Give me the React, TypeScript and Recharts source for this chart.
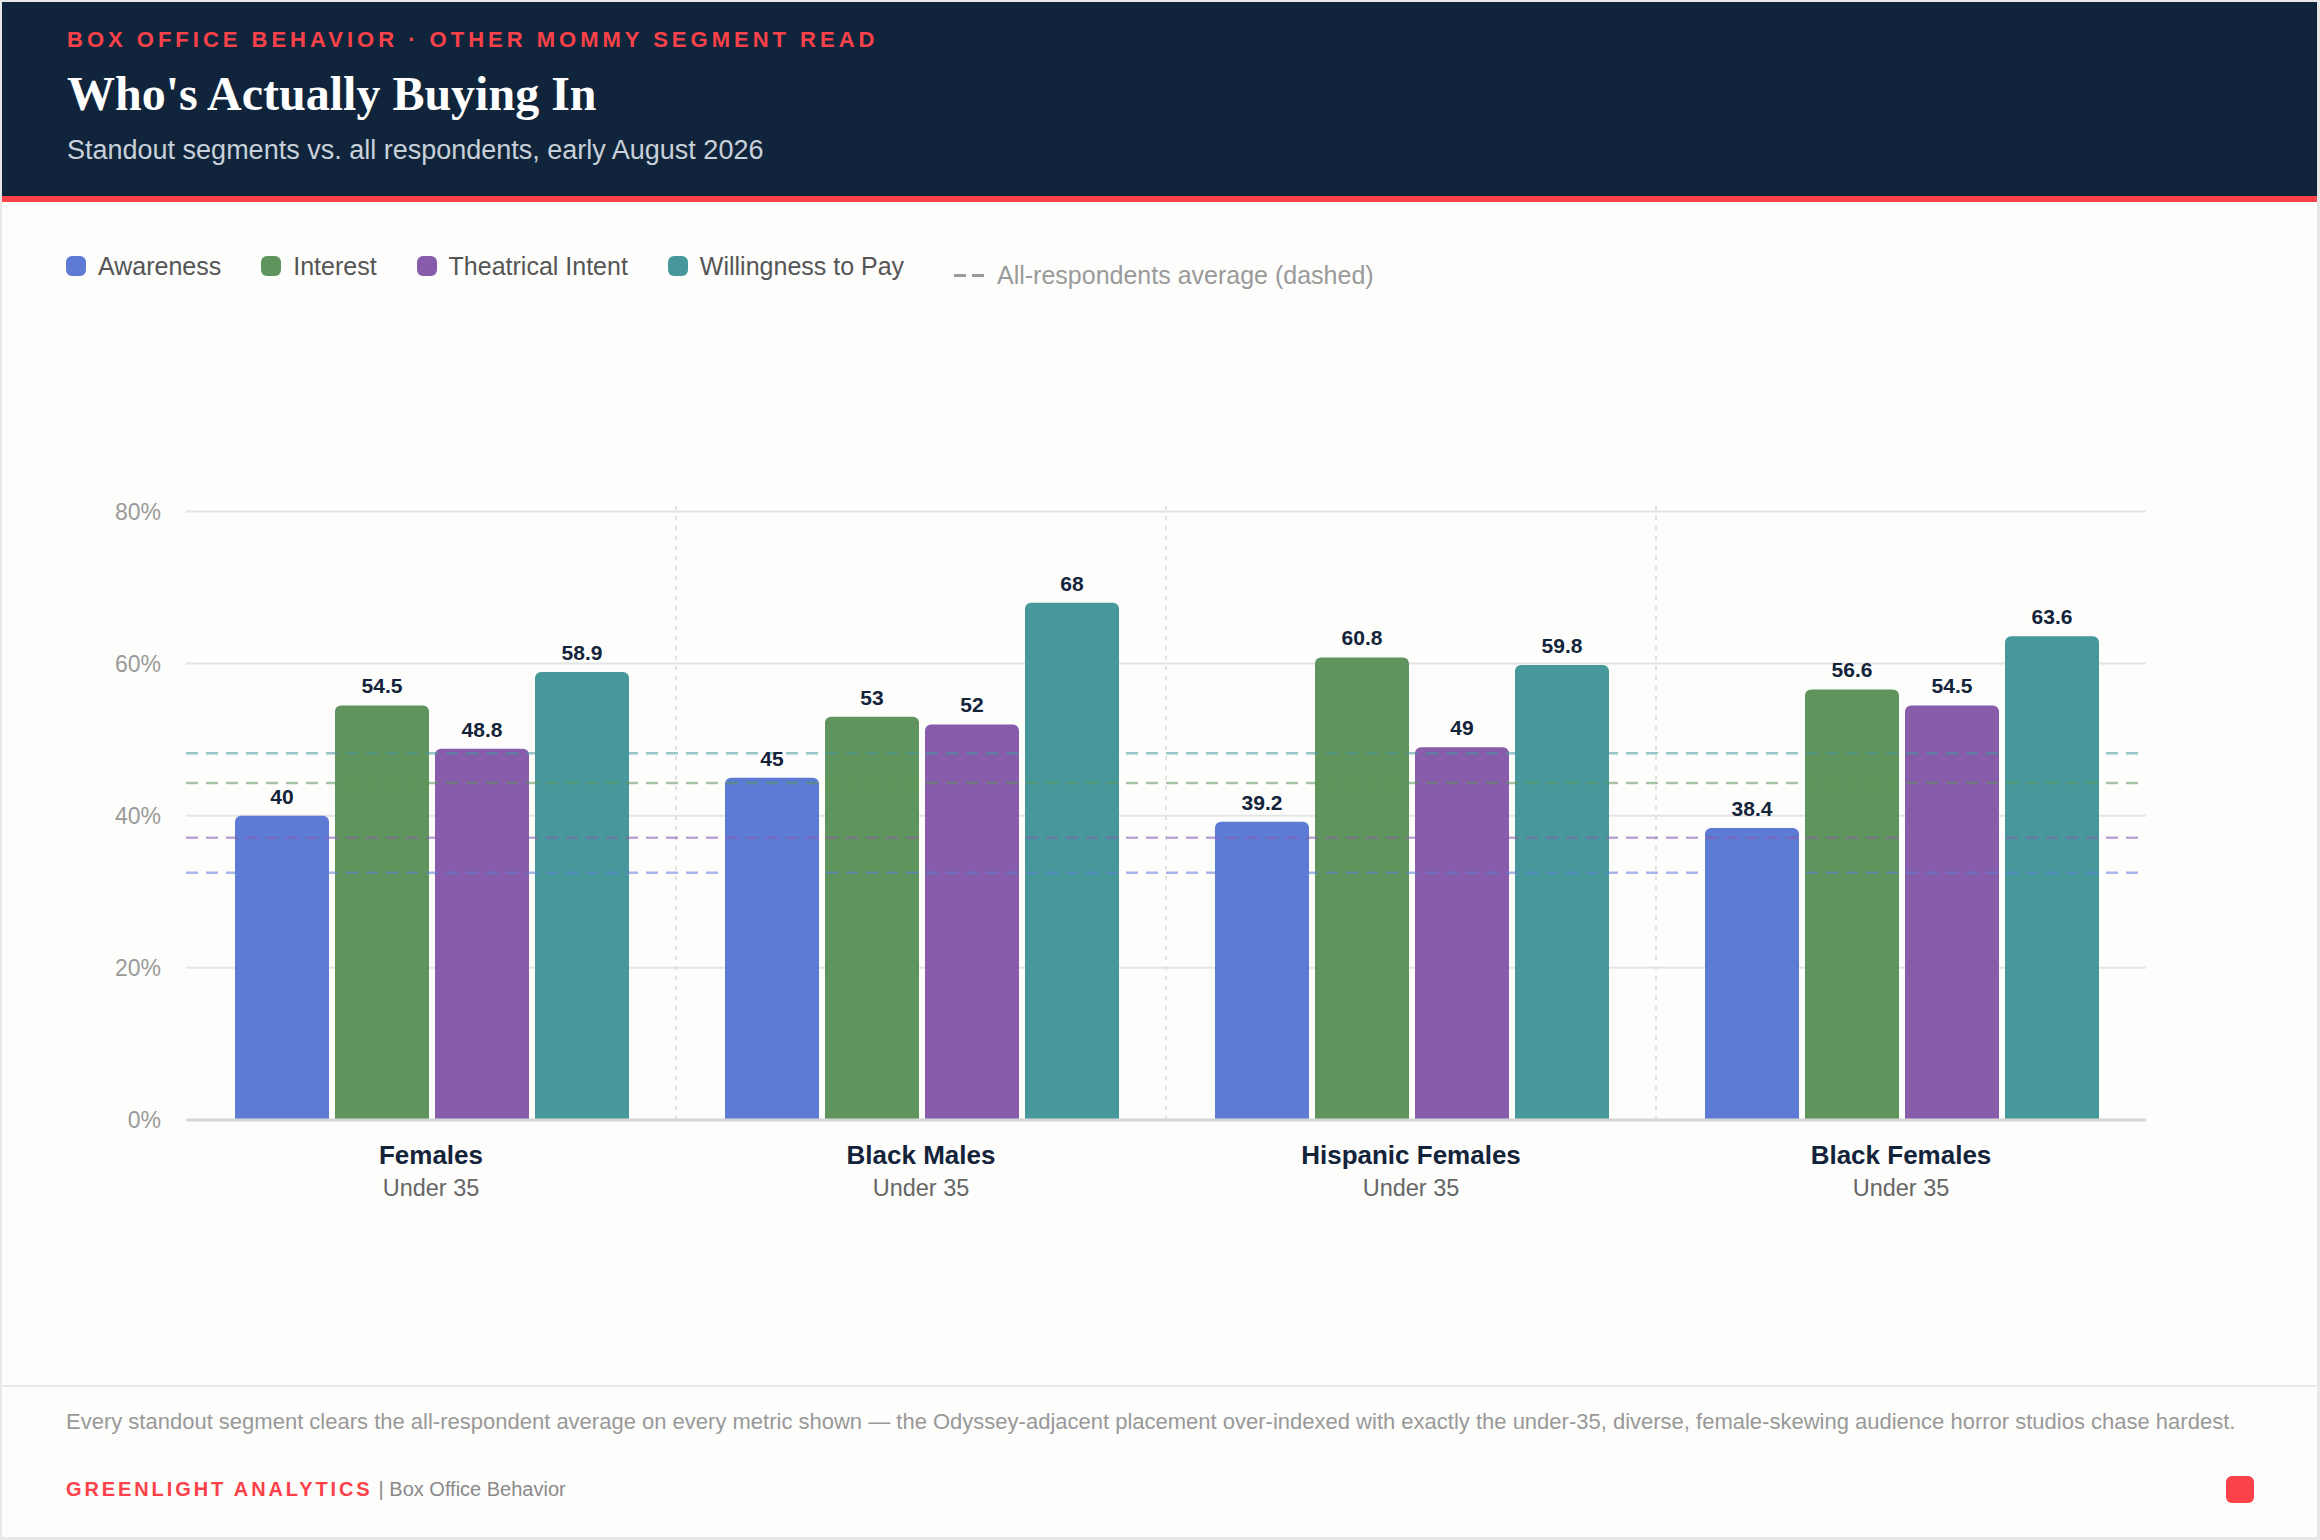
import React from "react";
import {
  BarChart,
  Bar,
  XAxis,
  YAxis,
  CartesianGrid,
  ReferenceLine,
  LabelList,
} from "recharts";

const categories = ["Females", "Black Males", "Hispanic Females", "Black Females"];
const subLabels = ["Under 35", "Under 35", "Under 35", "Under 35"];
const awareness = [40, 45, 39.2, 38.4];
const interest = [54.5, 53, 60.8, 56.6];
const theatricalIntent = [48.8, 52, 49, 54.5];
const willingnessToPay = [58.9, 68, 59.8, 63.6];
const allRespondentAverages = [32.5, 44.3, 37.1, 48.2];
const yTicks = [0, 20, 40, 60, 80];

const seriesNames = ["Awareness", "Interest", "Theatrical Intent", "Willingness to Pay"];
const seriesKeys = ["awareness", "interest", "intent", "wtp"];
const seriesColors = ["#5d7bd5", "#5f955c", "#875cab", "#46989a"];
const seriesValues = [awareness, interest, theatricalIntent, willingnessToPay];

const data = categories.map((c, i) => {
  const row: Record<string, any> = { name: c, sub: subLabels[i] };
  seriesKeys.forEach((k, j) => {
    row[k] = seriesValues[j][i];
  });
  return row;
});

const SANS = '"Liberation Sans", Arial, sans-serif';
const SERIF = '"Liberation Serif", "Times New Roman", serif';

const CategoryTick = (props: any) => {
  const { x, y, payload, index } = props;
  return (
    <g>
      <text
        x={x}
        y={y}
        dy={44}
        textAnchor="middle"
        fontFamily={SANS}
        fontWeight={700}
        fontSize={26}
        fill="#13233a"
      >
        {payload.value}
      </text>
      <text
        x={x}
        y={y}
        dy={76}
        textAnchor="middle"
        fontFamily={SANS}
        fontSize={23.5}
        fill="#666666"
      >
        {subLabels[index] ?? "Under 35"}
      </text>
    </g>
  );
};

export default function App() {
  return (
    <div
      style={{
        position: "absolute",
        left: 0,
        top: 0,
        width: 2320,
        height: 1540,
        background: "#e8e8e8",
        overflow: "hidden",
        fontFamily: SANS,
      }}
    >
      <div
        style={{
          position: "absolute",
          left: 2,
          top: 2,
          width: 2315,
          height: 1535,
          background: "#fdfdfc",
        }}
      />
      {/* Header */}
      <div
        style={{
          position: "absolute",
          left: 2,
          top: 2,
          width: 2315,
          height: 194,
          background: "#10253b",
        }}
      />
      <div
        style={{
          position: "absolute",
          left: 2,
          top: 196,
          width: 2315,
          height: 6,
          background: "#fb4149",
        }}
      />
      <div
        style={{
          position: "absolute",
          left: 67,
          top: 29,
          fontSize: 22,
          lineHeight: "22px",
          fontWeight: 700,
          letterSpacing: 4,
          color: "#fb4149",
          whiteSpace: "nowrap",
        }}
      >
        BOX OFFICE BEHAVIOR · OTHER MOMMY SEGMENT READ
      </div>
      <div
        style={{
          position: "absolute",
          left: 67,
          top: 70,
          fontSize: 48,
          lineHeight: "48px",
          fontWeight: 700,
          fontFamily: SERIF,
          color: "#ffffff",
          whiteSpace: "nowrap",
        }}
      >
        Who's Actually Buying In
      </div>
      <div
        style={{
          position: "absolute",
          left: 67,
          top: 137,
          fontSize: 27,
          lineHeight: "27px",
          color: "#c8d0da",
          whiteSpace: "nowrap",
        }}
      >
        Standout segments vs. all respondents, early August 2026
      </div>

      {/* Legend */}
      <div
        style={{
          position: "absolute",
          left: 66,
          top: 253,
          height: 26,
          display: "flex",
          alignItems: "center",
          whiteSpace: "nowrap",
        }}
      >
        {seriesNames.map((n, i) => (
          <div key={n} style={{ display: "flex", alignItems: "center", marginRight: 40 }}>
            <div
              style={{
                width: 20,
                height: 20,
                borderRadius: 6,
                background: seriesColors[i],
                marginRight: 12,
              }}
            />
            <span style={{ fontSize: 25, lineHeight: "26px", color: "#555555" }}>{n}</span>
          </div>
        ))}
      </div>
      <div
        style={{
          position: "absolute",
          left: 954,
          top: 262,
          height: 26,
          display: "flex",
          alignItems: "center",
          whiteSpace: "nowrap",
        }}
      >
        <div style={{ width: 12, height: 3, background: "#9a9a9a", marginRight: 6 }} />
        <div style={{ width: 12, height: 3, background: "#9a9a9a", marginRight: 13 }} />
        <span style={{ fontSize: 25, lineHeight: "26px", color: "#9a9a9a" }}>
          All-respondents average (dashed)
        </span>
      </div>

      {/* Chart */}
      <div style={{ position: "absolute", left: 0, top: 400, width: 2320, height: 850 }}>
        <BarChart
          width={2320}
          height={850}
          data={data}
          margin={{ top: 100, right: 174, bottom: 40, left: 0 }}
          barCategoryGap="10%"
          barGap={6}
        >
          <CartesianGrid
            vertical={false}
            stroke="#e4e4e4"
            strokeWidth={2}
            horizontalValues={yTicks}
          />
          <XAxis
            dataKey="name"
            height={90}
            tickLine={false}
            tickSize={0}
            tickMargin={0}
            axisLine={{ stroke: "#d6d6d6", strokeWidth: 3 }}
            tick={<CategoryTick />}
            interval={0}
          />
          <YAxis
            width={186}
            domain={[0, 81.5]}
            ticks={yTicks}
            tickFormatter={(v: number) => `${v}%`}
            axisLine={false}
            tickLine={false}
            tickSize={0}
            tickMargin={25}
            tick={{ fontSize: 23, fill: "#9a9a9a", fontFamily: SANS }}
            interval={0}
          />
          {categories.slice(1).map((c) => (
            <ReferenceLine
              key={`sep-${c}`}
              x={c}
              position="start"
              stroke="#e2e2e2"
              strokeWidth={2}
              strokeDasharray="4 6"
            />
          ))}
          {seriesKeys.map((k, i) => (
            <Bar
              key={k}
              dataKey={k}
              name={seriesNames[i]}
              fill={seriesColors[i]}
              radius={[6, 6, 0, 0]}
              isAnimationActive={false}
            >
              <LabelList
                dataKey={k}
                position="top"
                offset={12}
                fill="#13233a"
                fontSize={21}
                fontWeight={700}
                fontFamily={SANS}
              />
            </Bar>
          ))}
          {allRespondentAverages.map((v, i) => (
            <ReferenceLine
              key={`avg-${i}`}
              y={v}
              stroke={seriesColors[i]}
              strokeOpacity={0.55}
              strokeWidth={2.5}
              strokeDasharray="12 8"
            />
          ))}
        </BarChart>
      </div>

      {/* Footer */}
      <div
        style={{
          position: "absolute",
          left: 2,
          top: 1385,
          width: 2315,
          height: 2,
          background: "#e9e9e9",
        }}
      />
      <div
        style={{
          position: "absolute",
          left: 66,
          top: 1411,
          fontSize: 22,
          lineHeight: "22px",
          color: "#999999",
          whiteSpace: "nowrap",
        }}
      >
        Every standout segment clears the all-respondent average on every metric shown — the
        Odyssey-adjacent placement over-indexed with exactly the under-35, diverse, female-skewing
        audience horror studios chase hardest.
      </div>
      <div
        style={{
          position: "absolute",
          left: 66,
          top: 1479,
          display: "flex",
          alignItems: "center",
          whiteSpace: "nowrap",
          height: 20,
        }}
      >
        <span
          style={{
            fontSize: 20,
            lineHeight: "20px",
            fontWeight: 700,
            letterSpacing: 2.9,
            color: "#fb4149",
          }}
        >
          GREENLIGHT ANALYTICS
        </span>
        <span style={{ fontSize: 20, lineHeight: "20px", color: "#8a8a8a", marginLeft: 6 }}>
          | Box Office Behavior
        </span>
      </div>
      <div
        style={{
          position: "absolute",
          left: 2226,
          top: 1476,
          width: 28,
          height: 27,
          borderRadius: 6,
          background: "#fb4149",
        }}
      />
    </div>
  );
}
